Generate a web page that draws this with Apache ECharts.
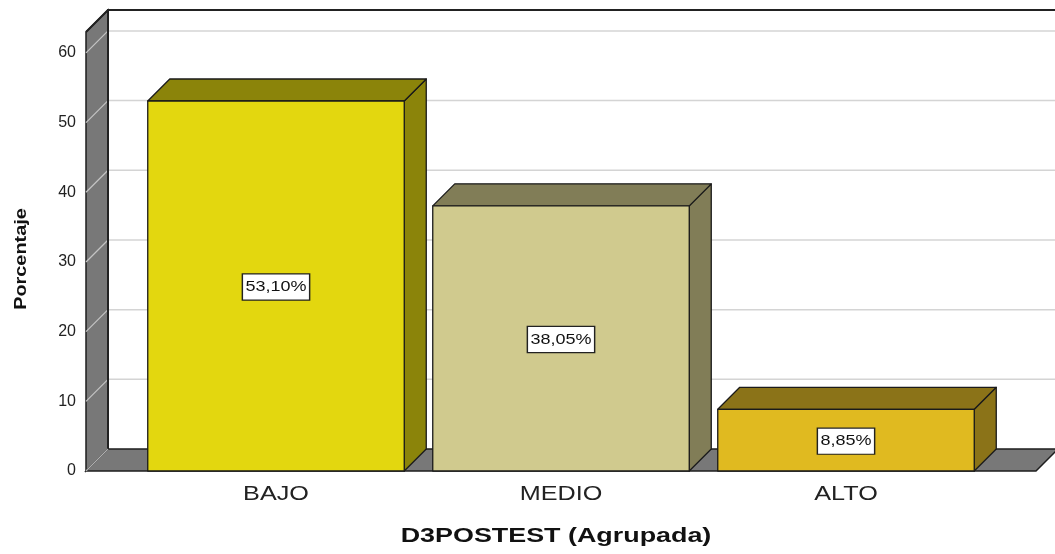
<!DOCTYPE html>
<html>
<head>
<meta charset="utf-8">
<script src="https://cdn.jsdelivr.net/npm/echarts@6/dist/echarts.min.js"></script>
<style>
  html, body { margin: 0; padding: 0; background: #fff; }
  #chart { width: 1055px; height: 554px; }
</style>
</head>
<body>
<div id="chart"></div>
<script>
// data
var categories = ['BAJO', 'MEDIO', 'ALTO'];
var percentages = [53.10, 38.05, 8.85];
var valueLabels = ['53,10%', '38,05%', '8,85%'];
var yTicks = [0, 10, 20, 30, 40, 50, 60];
var xTitle = 'D3POSTEST (Agrupada)';
var yTitle = 'Porcentaje';

// look
var frontColors = ['#e3d70f', '#d0ca8e', '#e0ba20'];
var shadeColors = ['#8b840a', '#817d57', '#8b7318'];
var DEPTH = 22;
var X_MIN = -2 / 3, X_MAX = 8 / 3, Y_MAX = 63;
var BAR_HALF = 0.45;
var FONT = '"Liberation Sans", Arial, sans-serif';

var chart = echarts.init(document.getElementById('chart'));

function renderFrame(params, api) {
    var d = DEPTH;
    var fl = api.coord([X_MIN, 0]);
    var fr = api.coord([X_MAX, 0]);
    var tl = api.coord([X_MIN, Y_MAX]);
    var kids = [];
    // back wall
    kids.push({ type: 'rect', shape: { x: fl[0] + d, y: tl[1] - d, width: fr[0] - fl[0], height: fl[1] - tl[1] },
        style: { fill: '#fff' } });
    // left wall
    kids.push({ type: 'polygon', shape: { points: [[fl[0], tl[1]], [fl[0] + d, tl[1] - d], [fl[0] + d, fl[1] - d], [fl[0], fl[1]]] },
        style: { fill: '#787878', stroke: '#1e1e1e', lineWidth: 1.5 } });
    // grid lines
    yTicks.forEach(function (v) {
        var p = api.coord([X_MIN, v]);
        kids.push({ type: 'line', shape: { x1: p[0], y1: p[1], x2: p[0] + d, y2: p[1] - d },
            style: { stroke: '#c4c4c4', lineWidth: 1.2 } });
        if (v > 0) {
            kids.push({ type: 'line', shape: { x1: p[0] + d, y1: p[1] - d, x2: fr[0] + d, y2: p[1] - d },
                style: { stroke: '#d4d4d4', lineWidth: 1.5 } });
        }
    });
    // back wall edges
    kids.push({ type: 'polyline', shape: { points: [[fl[0] + d, fl[1] - d], [fl[0] + d, tl[1] - d], [fr[0] + d, tl[1] - d]] },
        style: { stroke: '#222', lineWidth: 2, fill: 'none' } });
    kids.push({ type: 'line', shape: { x1: fl[0], y1: tl[1], x2: fl[0] + d, y2: tl[1] - d },
        style: { stroke: '#222', lineWidth: 2 } });
    // floor
    kids.push({ type: 'polygon', shape: { points: [[fl[0], fl[1]], [fr[0], fr[1]], [fr[0] + d, fr[1] - d], [fl[0] + d, fl[1] - d]] },
        style: { fill: '#787878', stroke: '#1e1e1e', lineWidth: 1.5 } });
    kids.push({ type: 'line', shape: { x1: fl[0], y1: fl[1], x2: fl[0] + d, y2: fl[1] - d },
        style: { stroke: '#b0b0b0', lineWidth: 1.2 } });
    return { type: 'group', children: kids };
}

function renderBar(params, api) {
    var i = api.value(0), v = api.value(1), idx = params.dataIndex, d = DEPTH;
    var lb = api.coord([i - BAR_HALF, 0]);
    var rt = api.coord([i + BAR_HALF, v]);
    var x0 = lb[0], y0 = lb[1], x1 = rt[0], y1 = rt[1];
    var edge = { stroke: '#1a1a1a', lineWidth: 1.3, lineJoin: 'round' };
    return {
        type: 'group',
        children: [
            { type: 'polygon', shape: { points: [[x1, y1], [x1 + d, y1 - d], [x1 + d, y0 - d], [x1, y0]] },
                style: Object.assign({ fill: shadeColors[idx] }, edge) },
            { type: 'polygon', shape: { points: [[x0, y1], [x0 + d, y1 - d], [x1 + d, y1 - d], [x1, y1]] },
                style: Object.assign({ fill: shadeColors[idx] }, edge) },
            { type: 'rect', shape: { x: x0, y: y1, width: x1 - x0, height: y0 - y1 },
                style: Object.assign({ fill: frontColors[idx] }, edge) },
            { type: 'text', x: (x0 + x1) / 2, y: (y0 + y1) / 2 + 1, scaleX: 1.2,
                style: { text: valueLabels[idx], font: '15px ' + FONT, fill: '#111',
                    align: 'center', verticalAlign: 'middle', textAlign: 'center', textVerticalAlign: 'middle',
                    backgroundColor: '#fff', borderColor: '#222', borderWidth: 1.2,
                    padding: [5, 2, 4, 2], lineHeight: 16 } },
            { type: 'text', x: (x0 + x1) / 2, y: y0 + 23, scaleX: 1.2,
                style: { text: categories[idx], font: '21px ' + FONT, fill: '#222',
                    align: 'center', verticalAlign: 'middle', textAlign: 'center', textVerticalAlign: 'middle' } }
        ]
    };
}

var option = {
    animation: false,
    backgroundColor: '#fff',
    grid: { left: 86, right: 19, top: 32, bottom: 83 },
    xAxis: { type: 'value', min: X_MIN, max: X_MAX, show: false },
    yAxis: {
        type: 'value', min: 0, max: Y_MAX, interval: 10,
        axisLine: { show: false }, axisTick: { show: false }, splitLine: { show: false },
        axisLabel: {
            margin: 10, fontSize: 16, color: '#222', fontFamily: FONT, padding: [6, 0, 0, 0],
            formatter: function (v) { return yTicks.indexOf(v) >= 0 ? String(v) : ''; }
        }
    },
    graphic: [
        { type: 'text', x: 556, y: 536, scaleX: 1.28,
            style: { text: xTitle, font: 'bold 21px ' + FONT, fill: '#111',
                align: 'center', verticalAlign: 'middle', textAlign: 'center', textVerticalAlign: 'middle' } },
        { type: 'text', x: 21, y: 259, rotation: Math.PI / 2, scaleX: 1.17,
            style: { text: yTitle, font: 'bold 17px ' + FONT, fill: '#111',
                align: 'center', verticalAlign: 'middle', textAlign: 'center', textVerticalAlign: 'middle' } }
    ],
    series: [
        { type: 'custom', renderItem: renderFrame, data: [[0, 0]], clip: false, silent: true, z: 1 },
        { type: 'custom', renderItem: renderBar, clip: false, z: 2,
            encode: { x: 0, y: 1 },
            data: categories.map(function (c, i) { return [i, percentages[i]]; }) }
    ]
};

chart.setOption(option);
window.onresize = function () { chart.resize(); };
</script>
</body>
</html>
